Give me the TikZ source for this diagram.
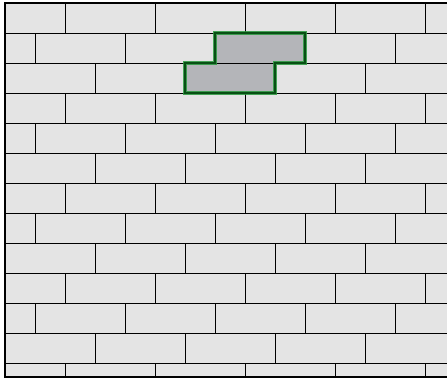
\documentclass[tikz,border=0pt]{standalone}
\definecolor{brickgray}{RGB}{228,228,228}
\definecolor{pickgray}{RGB}{180,181,185}
\definecolor{pickgreen}{RGB}{8,80,20}
\definecolor{pickglow}{RGB}{40,150,60}
\begin{document}
\begin{tikzpicture}[x=1cm, y=-1cm]
	% Styles
	\tikzset{joint/.style={draw=black, line width=0.75pt},
		frame/.style={draw=black, line width=1.8pt},
		glow/.style={draw=pickglow, line width=4.6pt, opacity=0.85, line join=miter},
		picked/.style={draw=pickgreen, line width=2pt, line join=miter}}
	\useasboundingbox (0,0) rectangle (14.9,12.7);
	
	% Wall
	\fill[brickgray] (0.1667,0.1) rectangle (14.9,12.567);
	\fill[pickgray] (7.1667,1.1) -- (10.1667,1.1) -- (10.1667,2.1) -- (9.1667,2.1) -- (9.1667,3.1)
		-- (6.1667,3.1) -- (6.1667,2.1) -- (7.1667,2.1) -- cycle;
	
	% Joints
	\begin{scope}
		\clip (0.1667,0.1) rectangle (14.9,12.567);
		\foreach \r in {1,...,12} \draw[joint] (0,\r+0.1) -- (15,\r+0.1);
		\foreach \r in {0,...,12} {
			\pgfmathsetmacro\off{2-mod(\r,3)}
			\foreach \k in {0,...,4} \draw[joint] (0.1667+\off+3*\k,\r+0.1) -- ++(0,1);
		}
	\end{scope}
	
	% Frame
	\draw[frame] (14.9,0.1) -- (0.1667,0.1) -- (0.1667,12.567) -- (14.9,12.567);
	
	% Picked bricks
	\foreach \s in {glow, picked}
		\draw[\s] (7.1667,1.1) -- (10.1667,1.1) -- (10.1667,2.1) -- (9.1667,2.1) -- (9.1667,3.1)
			-- (6.1667,3.1) -- (6.1667,2.1) -- (7.1667,2.1) -- cycle;
\end{tikzpicture}
\end{document}
